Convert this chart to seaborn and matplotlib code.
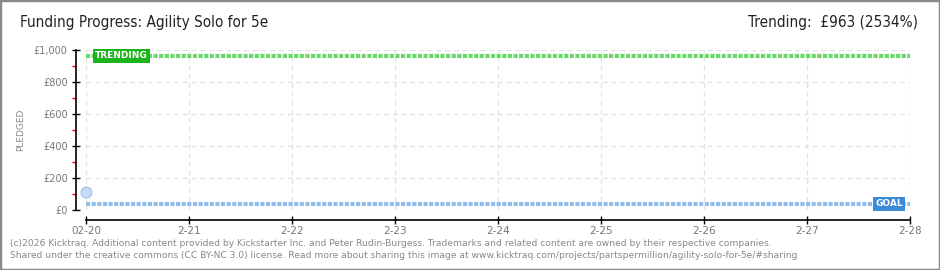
import matplotlib
matplotlib.use("Agg")
import matplotlib.pyplot as plt
import seaborn as sns
import pandas as pd
from matplotlib.patches import Rectangle
from matplotlib.ticker import MultipleLocator

# ---- data ----
day_labels = ["02-20", "2-21", "2-22", "2-23", "2-24", "2-25", "2-26", "2-27", "2-28"]
day_nums = [20, 21, 22, 23, 24, 25, 26, 27, 28]
pledged_days = [20]
pledged_values = [110]
trending_value = 963
trending_pct = 2534
goal_value = 38
y_ticks = [0, 200, 400, 600, 800, 1000]
y_tick_labels = ["£0", "£200", "£400", "£600", "£800", "£1,000"]

title = "Funding Progress: Agility Solo for 5e"
footer1 = ("(c)2026 Kicktraq. Additional content provided by Kickstarter Inc. and Peter Rudin-Burgess. "
           "Trademarks and related content are owned by their respective companies.")
footer2 = ("Shared under the creative commons (CC BY-NC 3.0) license. Read more about sharing this image at "
           "www.kicktraq.com/projects/partspermillion/agility-solo-for-5e/#sharing")

sns.set_theme(style="white")
plt.rcParams['font.family'] = ['DejaVu Sans']

fig = plt.figure(figsize=(9.4, 2.7), dpi=100)
ax = fig.add_axes([86/940, 1 - 210/270, (910 - 86)/940, 160/270])

lines_df = pd.DataFrame({
    "day": [day_nums[0], day_nums[-1], day_nums[0], day_nums[-1]],
    "value": [trending_value, trending_value, goal_value, goal_value],
    "series": ["Trending", "Trending", "Goal", "Goal"],
})
sns.lineplot(data=lines_df, x="day", y="value", hue="series",
             palette={"Trending": "#6ad86a", "Goal": "#92bfea"},
             linewidth=3, ax=ax, legend=False)
for ln in ax.get_lines():
    ln.set_dashes((1.0, 0.35))
    ln.set_dash_capstyle("butt")

pts = pd.DataFrame({"day": pledged_days, "value": pledged_values})
sns.scatterplot(data=pts, x="day", y="value", s=60, color="#c4dcf6",
                edgecolor="#9dbfe6", linewidth=0.8, ax=ax, zorder=5, clip_on=False)

ax.set_xlim(day_nums[0], day_nums[-1])
ax.set_ylim(0, 1000)
ax.set_xticks(day_nums)
ax.set_xticklabels(day_labels)
ax.set_yticks(y_ticks)
ax.set_yticklabels(y_tick_labels)
ax.yaxis.set_minor_locator(MultipleLocator(100))
ax.set_xlabel("")
ax.set_ylabel("PLEDGED", fontsize=6.5, color="#888888", labelpad=6)

ax.grid(True, which="major", color="#e2e2e2", linestyle=(0, (4, 3)), linewidth=0.9)
ax.set_axisbelow(True)

sns.despine(ax=ax, offset=7.2, top=True, right=True)
for s in ("left", "bottom"):
    ax.spines[s].set_color("black")
    ax.spines[s].set_linewidth(1.2)

ax.tick_params(axis="y", which="major", direction="inout", length=6, width=1,
               color="black", labelsize=7, labelcolor="#777777", pad=3, left=True)
ax.tick_params(axis="y", which="minor", direction="out", length=3, width=1,
               color="#ee0000", left=True)
ax.tick_params(axis="x", which="major", direction="inout", length=6, width=1,
               color="black", labelsize=7.5, labelcolor="#777777", pad=1, bottom=True)

# labels on lines
ax.text(day_nums[0] + 0.09, trending_value, "TRENDING", fontsize=6.5, color="white",
        fontweight="bold", va="center", ha="left",
        bbox=dict(boxstyle="square,pad=0.25", fc="#1db41d", ec="none"), zorder=6)
ax.text(day_nums[-1] - 0.07, goal_value, "GOAL", fontsize=6.5, color="white",
        fontweight="bold", va="center", ha="right",
        bbox=dict(boxstyle="square,pad=0.25", fc="#3b8bd9", ec="none"), zorder=6)

fig.text(20/940, 1 - 23/270, title, fontsize=11, color="#222222", va="center", ha="left",
         fontstretch="condensed")
fig.text(918/940, 1 - 23/270, f"Trending:  £{trending_value} ({trending_pct}%)", fontsize=11,
         color="#222222", va="center", ha="right", fontstretch="condensed")

fig.text(10/940, 1 - 243/270, footer1, fontsize=6.6, color="#888888", va="center", ha="left")
fig.text(10/940, 1 - 256/270, footer2, fontsize=6.6, color="#888888", va="center", ha="left")

fig.patches.append(Rectangle((0, 0), 1, 1, transform=fig.transFigure, fill=False,
                             edgecolor="#8a8a8a", linewidth=2.5, zorder=10))

fig.savefig("out.png", dpi=100)
